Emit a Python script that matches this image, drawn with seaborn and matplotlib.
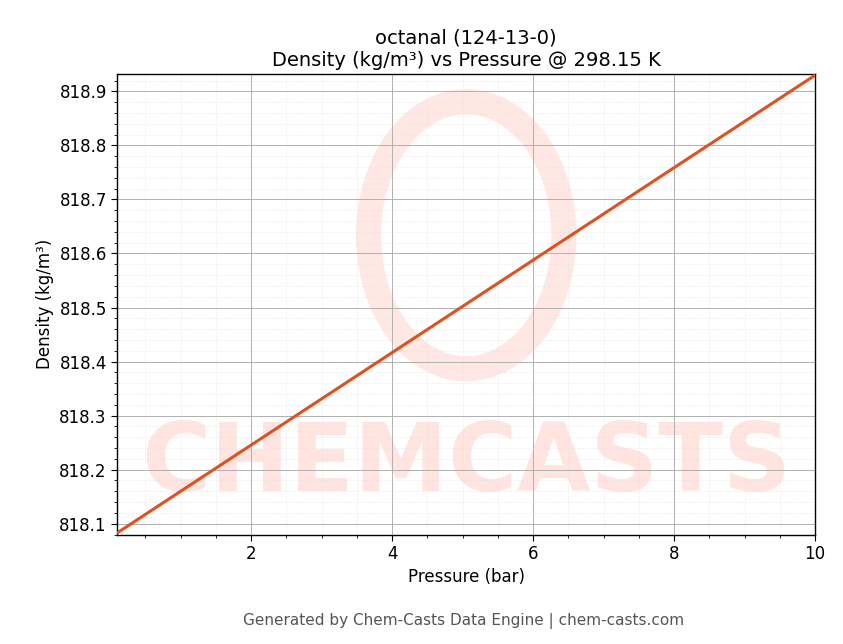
import matplotlib
matplotlib.use("Agg")
import matplotlib.pyplot as plt
import seaborn as sns
import numpy as np
from matplotlib.ticker import AutoMinorLocator

pressure_bar = [0.1, 10.0]
density = [818.083, 818.930]

sns.set_style("white")
plt.rcParams['font.family'] = ['DejaVu Sans']
plt.rcParams.update({"text.color": "black", "axes.labelcolor": "black",
                     "xtick.color": "black", "ytick.color": "black"})
fig, ax = plt.subplots(figsize=(8.43, 6.44), dpi=100)
fig.subplots_adjust(left=0.139, right=0.967, top=0.885, bottom=0.17)

ax.text(0.5, 0.15, "CHEMCASTS", transform=ax.transAxes, ha="center", va="center",
        fontsize=68, fontweight="bold", color="#ffe4e0", zorder=0, clip_on=True)
ax.add_patch(matplotlib.patches.Ellipse((0.5, 0.65), 0.28, 0.58, transform=ax.transAxes,
             fill=False, lw=18, ec="#ffe8e4", zorder=0))

sns.lineplot(x=pressure_bar, y=density, ax=ax, color="#e05020", lw=2.2, zorder=3)
ax.set_xlim(0.1, 10)
ax.set_ylim(818.08, 818.932)
ax.set_xticks([2, 4, 6, 8, 10])
ax.xaxis.set_minor_locator(AutoMinorLocator(4))
ax.yaxis.set_minor_locator(AutoMinorLocator(5))
ax.grid(which="major", color="#b0b0b0", lw=0.7)
ax.grid(which="minor", color="#e0e0e0", lw=0.5, ls=":")
ax.tick_params(which="both", direction="out", left=True, bottom=True)
ax.tick_params(which="major", labelsize=12, length=4)
ax.tick_params(which="minor", length=2)
for s in ax.spines.values():
    s.set_color("black"); s.set_linewidth(1)
ax.set_xlabel("Pressure (bar)", fontsize=12)
ax.set_ylabel("Density (kg/m³)", fontsize=12)
ax.set_title("octanal (124-13-0)\nDensity (kg/m³) vs Pressure @ 298.15 K", fontsize=14)
fig.text(0.55, 0.03, "Generated by Chem-Casts Data Engine | chem-casts.com",
         ha="center", fontsize=11, color="#555555")
fig.savefig("out.png", dpi=100)
